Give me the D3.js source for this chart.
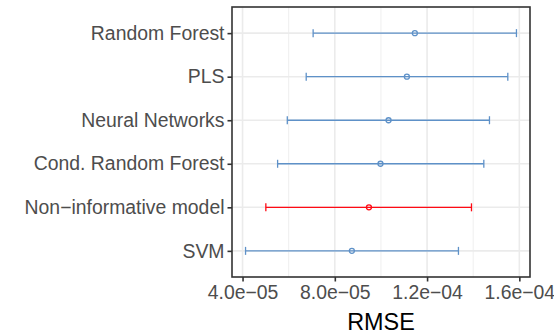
<!DOCTYPE html>
<html><head><meta charset="utf-8">
<script src="https://cdn.jsdelivr.net/npm/d3@7"></script>
<style>body{margin:0;background:#fff;}svg{display:block;}</style>
</head><body>
<script>
const models = ["Random Forest","PLS","Neural Networks","Cond. Random Forest","Non\u2212informative model","SVM"];
const lower  = [7.06e-5, 6.76e-5, 5.94e-5, 5.52e-5, 5.01e-5, 4.13e-5];
const mean   = [1.147e-4, 1.1125e-4, 1.033e-4, 9.98e-5, 9.48e-5, 8.74e-5];
const upper  = [1.5875e-4, 1.550e-4, 1.4705e-4, 1.446e-4, 1.3925e-4, 1.336e-4];
const highlight = [false,false,false,false,true,false];
const xTicks = [4e-5, 8e-5, 1.2e-4, 1.6e-4];
const xTickLabels = ["4.0e\u221205","8.0e\u221205","1.2e\u221204","1.6e\u221204"];
const xMinor = [6e-5, 1e-4, 1.4e-4];

const W=554,H=335;
const panel={l:232,t:7,r:530,b:277};
const svg=d3.select("body").append("svg").attr("width",W).attr("height",H);

const lo=d3.min(lower), hi=d3.max(upper), pad=(hi-lo)*0.05;
const x=d3.scaleLinear().domain([lo-pad,hi+pad]).range([panel.l,panel.r]);
const y=d3.scalePoint().domain(models).range([panel.t,panel.b]).padding(0.6);

// grid
svg.append("g").selectAll("line").data(xMinor).join("line")
  .attr("x1",d=>x(d)).attr("x2",d=>x(d)).attr("y1",panel.t).attr("y2",panel.b)
  .attr("stroke","#EBEBEB").attr("stroke-width",0.8);
svg.append("g").selectAll("line").data(xTicks).join("line")
  .attr("x1",d=>x(d)).attr("x2",d=>x(d)).attr("y1",panel.t).attr("y2",panel.b)
  .attr("stroke","#EBEBEB").attr("stroke-width",1.6);
svg.append("g").selectAll("line").data(models).join("line")
  .attr("x1",panel.l).attr("x2",panel.r).attr("y1",d=>y(d)).attr("y2",d=>y(d))
  .attr("stroke","#EBEBEB").attr("stroke-width",1.6);

// error bars
const data=models.map((m,i)=>({m,lo:lower[i],mean:mean[i],hi:upper[i],hl:highlight[i]}));
const col=d=>d.hl?"#FF0A14":"#5E91C8";
const g=svg.append("g").selectAll("g").data(data).join("g")
  .style("stroke",col).style("stroke-width","1.3px").style("fill","none");
g.append("line").attr("x1",d=>x(d.lo)).attr("x2",d=>x(d.hi))
  .attr("y1",d=>y(d.m)).attr("y2",d=>y(d.m));
g.append("line").attr("x1",d=>x(d.lo)).attr("x2",d=>x(d.lo))
  .attr("y1",d=>y(d.m)-4).attr("y2",d=>y(d.m)+4);
g.append("line").attr("x1",d=>x(d.hi)).attr("x2",d=>x(d.hi))
  .attr("y1",d=>y(d.m)-4).attr("y2",d=>y(d.m)+4);
g.append("circle").attr("cx",d=>x(d.mean)).attr("cy",d=>y(d.m)).attr("r",2.5);

// panel border
svg.append("rect").attr("x",panel.l).attr("y",panel.t)
  .attr("width",panel.r-panel.l).attr("height",panel.b-panel.t)
  .attr("fill","none").attr("stroke","#333333").attr("stroke-width",1.6);

// axes
const font="'Liberation Sans', Arial, Helvetica, sans-serif";
const xa=svg.append("g").attr("transform",`translate(0,${panel.b})`)
  .call(d3.axisBottom(x).tickValues(xTicks).tickFormat((d,i)=>xTickLabels[i]).tickSize(4.5).tickPadding(3.5));
xa.select(".domain").remove();
xa.selectAll(".tick line").attr("stroke","#333333").attr("stroke-width",1.6);
xa.selectAll(".tick text").attr("fill","#4D4D4D").style("font-family",font).style("font-size","19.4px");

const ya=svg.append("g").attr("transform",`translate(${panel.l},0)`)
  .call(d3.axisLeft(y).tickSize(4.5).tickPadding(3));
ya.select(".domain").remove();
ya.selectAll(".tick line").attr("stroke","#333333").attr("stroke-width",1.6);
ya.selectAll(".tick text").attr("fill","#4D4D4D").style("font-family",font).style("font-size","19.4px");

svg.append("text").attr("x",(panel.l+panel.r)/2).attr("y",329.5)
  .attr("text-anchor","middle").style("font-family",font).style("font-size","23.4px")
  .attr("fill","#000").text("RMSE");
</script>
</body></html>
